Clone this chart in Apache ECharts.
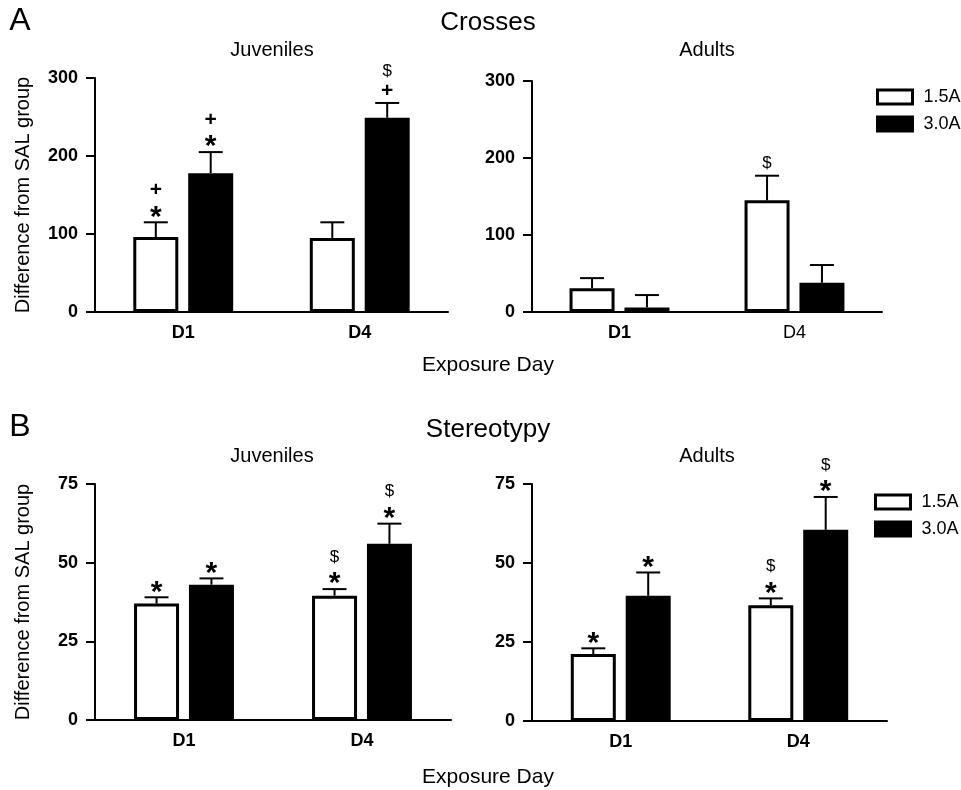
<!DOCTYPE html>
<html>
<head>
<meta charset="utf-8">
<script src="https://cdn.jsdelivr.net/npm/echarts@6/dist/echarts.min.js"></script>
<style>
html,body{margin:0;padding:0;background:#fff;}
#chart{width:961px;height:790px;}
</style>
</head>
<body>
<div id="chart"></div>
<script>
// ---------- DATA ----------
const days = ['D1', 'D4'];
const seriesNames = ['1.5A', '3.0A'];
const crossTicks = [0, 100, 200, 300];
const stereoTicks = [0, 25, 50, 75];

// Crosses, Juveniles
const crossJuv15 = [96, 95];
const crossJuv15Sem = [19, 20];
const crossJuv30 = [178, 249];
const crossJuv30Sem = [27, 19];
// Crosses, Adults
const crossAd15 = [31, 145];
const crossAd15Sem = [13, 32];
const crossAd30 = [6, 38];
const crossAd30Sem = [16, 23];
// Stereotypy, Juveniles
const stereoJuv15 = [37, 39.5];
const stereoJuv15Sem = [2, 2.1];
const stereoJuv30 = [43, 56];
const stereoJuv30Sem = [2, 6.4];
// Stereotypy, Adults
const stereoAd15 = [21.2, 36.6];
const stereoAd15Sem = [1.8, 2.2];
const stereoAd30 = [39.6, 60.5];
const stereoAd30Sem = [7.4, 10.4];

// significance marks, listed bottom to top
const crossJuv15Sig = [['*', '+'], []];
const crossJuv30Sig = [['*', '+'], ['+', '$']];
const crossAd15Sig = [[], ['$']];
const crossAd30Sig = [[], []];
const stereoJuv15Sig = [['*'], ['*', '$']];
const stereoJuv30Sig = [['*'], ['*', '$']];
const stereoAd15Sig = [['*'], ['*', '$']];
const stereoAd30Sig = [['*'], ['*', '$']];

// ---------- STYLE ----------
const FONT = "'Liberation Sans', Arial, Helvetica, sans-serif";
const BAR_W = 45;
const BAR_GAP = 0.22;

const panels = [
  { grid: { left: 95, top: 78, width: 353, height: 234 }, ticks: crossTicks,
    v15: crossJuv15, e15: crossJuv15Sem, v30: crossJuv30, e30: crossJuv30Sem,
    s15: crossJuv15Sig, s30: crossJuv30Sig, yName: 'Difference from SAL group', d4Bold: true },
  { grid: { left: 532, top: 81, width: 350, height: 231 }, ticks: crossTicks,
    v15: crossAd15, e15: crossAd15Sem, v30: crossAd30, e30: crossAd30Sem,
    s15: crossAd15Sig, s30: crossAd30Sig, yName: '', d4Bold: false },
  { grid: { left: 95, top: 484, width: 356, height: 236 }, ticks: stereoTicks,
    v15: stereoJuv15, e15: stereoJuv15Sem, v30: stereoJuv30, e30: stereoJuv30Sem,
    s15: stereoJuv15Sig, s30: stereoJuv30Sig, yName: 'Difference from SAL group', d4Bold: true },
  { grid: { left: 532, top: 484, width: 355, height: 237 }, ticks: stereoTicks,
    v15: stereoAd15, e15: stereoAd15Sem, v30: stereoAd30, e30: stereoAd30Sem,
    s15: stereoAd15Sig, s30: stereoAd30Sig, yName: '', d4Bold: true }
];

const grids = [], xAxes = [], yAxes = [], series = [];

const sigStyle = {
  '*': { font: 'bold 30px ' + FONT, dy: 7 },
  '+': { font: 'bold 21px ' + FONT, dy: 0 },
  '$': { font: '17px ' + FONT, dy: 0 }
};

panels.forEach(function (p, i) {
  grids.push(p.grid);
  xAxes.push({
    type: 'category', gridIndex: i,
    data: days.map(function (d, k) {
      return (k === 1 && !p.d4Bold) ? { value: d, textStyle: { fontWeight: 'normal' } } : d;
    }),
    axisLine: { lineStyle: { color: '#000', width: 2 } },
    axisTick: { alignWithLabel: true, length: 7, lineStyle: { color: '#000', width: 2 } },
    axisLabel: { color: '#000', fontFamily: FONT, fontSize: 18, fontWeight: 'bold', margin: 12 }
  });
  const step = p.ticks[1] - p.ticks[0];
  yAxes.push({
    type: 'value', gridIndex: i, min: p.ticks[0], max: p.ticks[p.ticks.length - 1], interval: step,
    name: p.yName, nameLocation: 'middle', nameGap: 62,
    nameTextStyle: { color: '#000', fontFamily: FONT, fontSize: 20 },
    axisLine: { show: true, lineStyle: { color: '#000', width: 2 } },
    axisTick: { show: true, length: 9, lineStyle: { color: '#000', width: 2 } },
    splitLine: { show: false },
    axisLabel: { color: '#000', fontFamily: FONT, fontSize: 18, fontWeight: 'bold', margin: 17 }
  });
  series.push({
    name: seriesNames[0], type: 'bar', xAxisIndex: i, yAxisIndex: i,
    data: p.v15, barWidth: BAR_W, barGap: (BAR_GAP * 100) + '%',
    itemStyle: { color: '#fff', borderColor: '#000', borderWidth: 3 },
    emphasis: { disabled: true }
  });
  series.push({
    name: seriesNames[1], type: 'bar', xAxisIndex: i, yAxisIndex: i,
    data: p.v30, barWidth: BAR_W, barGap: (BAR_GAP * 100) + '%',
    itemStyle: { color: '#000', borderColor: '#000', borderWidth: 0 },
    emphasis: { disabled: true }
  });
  const errData = [];
  const sigs = [];
  days.forEach(function (d, k) {
    errData.push([k, p.v15[k], p.e15[k], 0]); sigs.push(p.s15[k]);
    errData.push([k, p.v30[k], p.e30[k], 1]); sigs.push(p.s30[k]);
  });
  series.push({
    type: 'custom', xAxisIndex: i, yAxisIndex: i, z: 5, silent: true,
    data: errData,
    encode: { x: 0, y: 1 },
    renderItem: function (params, api) {
      const cat = api.value(0), mean = api.value(1), sem = api.value(2), grp = api.value(3);
      const base = api.coord([cat, mean]);
      const top = api.coord([cat, mean + sem]);
      const off = (BAR_W * (1 + BAR_GAP)) / 2 * (grp === 0 ? -1 : 1);
      const x = base[0] + off;
      const col = '#000';
      const children = [
        { type: 'line', shape: { x1: x, y1: base[1], x2: x, y2: top[1] }, style: { stroke: col, lineWidth: 2 } },
        { type: 'line', shape: { x1: x - 12, y1: top[1], x2: x + 12, y2: top[1] }, style: { stroke: col, lineWidth: 2 } }
      ];
      const list = sigs[params.dataIndex] || [];
      list.forEach(function (s, j) {
        const st = sigStyle[s];
        children.push({
          type: 'text',
          style: { text: s, x: x, y: top[1] - 12 - j * 20 + st.dy, font: st.font, fill: '#000',
                   align: 'center', verticalAlign: 'middle' }
        });
      });
      return { type: 'group', children: children };
    }
  });
});

function txt(t, x, y, size) {
  return { type: 'text', x: x, y: y, style: { text: t, font: size + 'px ' + FONT, fill: '#000', align: 'center', verticalAlign: 'middle' } };
}

const legendBase = {
  orient: 'vertical', itemWidth: 35, itemHeight: 14, itemGap: 9, icon: 'rect', padding: 0,
  data: seriesNames, selectedMode: false,
  itemStyle: { borderColor: '#000', borderWidth: 3 },
  textStyle: { color: '#000', fontFamily: FONT, fontSize: 18, padding: [0, 0, 0, 6] }
};

const option = {
  animation: false,
  backgroundColor: '#fff',
  grid: grids,
  xAxis: xAxes,
  yAxis: yAxes,
  series: series,
  legend: [
    Object.assign({}, legendBase, { left: 876, top: 88 }),
    Object.assign({}, legendBase, { left: 874, top: 493 })
  ],
  graphic: [
    txt('A', 20, 21, 32),
    txt('Crosses', 488, 23, 26),
    txt('Juveniles', 272, 50, 20),
    txt('Adults', 707, 50, 20),
    txt('Exposure Day', 488, 365, 21),
    txt('B', 20, 427, 32),
    txt('Stereotypy', 488, 430, 26),
    txt('Juveniles', 272, 456, 20),
    txt('Adults', 707, 456, 20),
    txt('Exposure Day', 488, 777, 21)
  ]
};

const chart = echarts.init(document.getElementById('chart'), null, { renderer: 'canvas' });
chart.setOption(option);
</script>
</body>
</html>
